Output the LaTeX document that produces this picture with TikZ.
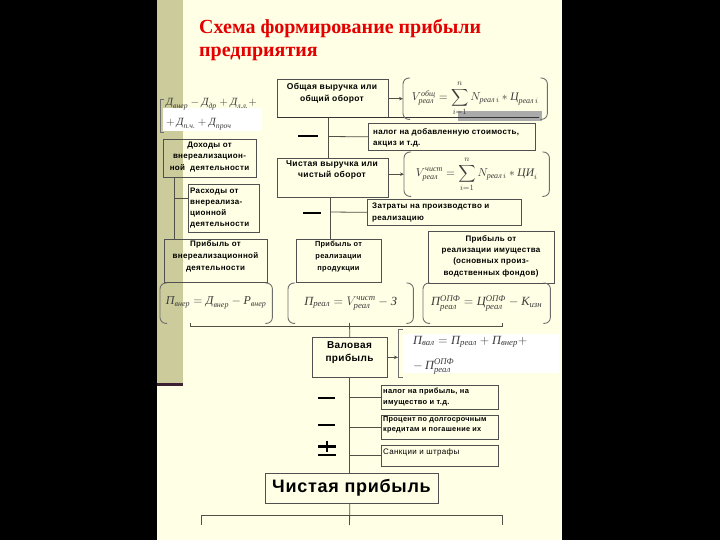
\RequirePackage{fix-cm}
\documentclass[tikz,border=0pt]{standalone}
\usepackage{amsmath}
\usepackage{fontspec}
\setmainfont{Liberation Serif}
\newfontfamily\boxfont[LetterSpace=4]{Liberation Sans}
\usetikzlibrary{calc,arrows.meta}
\newcommand\cyi[1]{\text{\itshape #1}}
\definecolor{cream}{RGB}{255,255,229}
\definecolor{stripe}{RGB}{203,203,155}
\definecolor{darkline}{RGB}{60,32,52}
\definecolor{boxc}{RGB}{80,80,80}
\definecolor{linec}{RGB}{80,80,70}
\definecolor{parc}{RGB}{110,110,110}
\definecolor{fc}{RGB}{60,60,60}
\definecolor{titlered}{RGB}{228,0,0}
\definecolor{graybar}{RGB}{170,170,170}
\newcommand\fparen[1]{%
  \draw[par] ($(#1.north west)+(7,0)$) -- (#1.north west) -- (#1.south west) -- ($(#1.south west)+(7,0)$);
  \draw[par] ($(#1.north east)+(-7,0)$) -- (#1.north east) -- (#1.south east) -- ($(#1.south east)+(-7,0)$);}
\begin{document}
\begin{tikzpicture}[x=1pt,y=-1pt,
  box/.style={draw=boxc, line width=0.7pt, inner sep=0pt, anchor=north west},
  region/.style={inner sep=0pt, anchor=north west},
  fs/.style 2 args={font=\boxfont\bfseries\fontsize{#1}{#2}\selectfont},
  txt/.style={inner sep=0pt, align=center, fs={8}{11}},
  ln/.style={draw=linec, line width=0.8pt},
  arr/.style={ln, -{Stealth[length=4pt,width=3.5pt]}},
  minus/.style={line width=2.6pt, black},
  par/.style={draw=parc, line width=0.9pt, rounded corners=6pt},
  sqb/.style={draw=parc, line width=0.9pt},
  fbox/.style={inner sep=0pt, text=fc, font=\fontsize{11}{13}\selectfont},
]
\useasboundingbox (0,0) rectangle (720,540);
\fill[black] (0,0) rectangle (720,540);
\fill[cream] (157,0) rectangle (562,540);
\fill[stripe] (157,0) rectangle (183,383);
\fill[darkline] (157,382.5) rectangle (183,385.5);

% title
\node[anchor=base west, inner sep=0pt, text=titlered, font=\bfseries\fontsize{20}{23}\selectfont] (t1) at (199,34) {Схема формирование прибыли};
\node[anchor=base west, inner sep=0pt, text=titlered, font=\bfseries\fontsize{20}{23}\selectfont] (t2) at (199,57) {предприятия};

% white patches behind formulas
\fill[white] (163,108) rectangle (262,131);
\fill[white] (403,334) rectangle (559,373);
\fill[graybar] (458,111) rectangle (542,121);

% boxes
\node[box, minimum width=111, minimum height=38] (b1) at (277,79) {};
\node[txt, fs={8.5}{12}] (b1t) at (332,93) {Общая выручка или\\общий оборот};
\node[box, minimum width=111, minimum height=39] (b2) at (277,158) {};
\node[txt, fs={8.5}{11}] (b2t) at (332,170) {Чистая выручка или\\чистый оборот};
\node[box, minimum width=167, minimum height=27] (bnds) at (368,123) {};
\node[txt, align=left, anchor=west, fs={8}{11}] (bndst) at (373,137.5) {налог на добавленную стоимость,\\акциз и т.д.};
\node[box, minimum width=154, minimum height=26] (bzat) at (367,199) {};
\node[txt, align=left, anchor=west, fs={8}{12}] (bzatt) at (372,213) {Затраты на производство и\\реализацию};
\node[box, minimum width=93, minimum height=38] (bdoh) at (163,139) {};
\node[txt, fs={8}{11.5}] (bdoht) at (209.5,157) {Доходы от\\внереализацион-\\ной\ \ деятельности};
\node[box, minimum width=71, minimum height=48] (bras) at (188,184) {};
\node[txt, align=left, anchor=west, fs={8}{10.7}] (brast) at (190,208) {Расходы от\\внереализа-\\ционной\\деятельности};
\node[box, minimum width=103, minimum height=43] (bpvn) at (164,239) {};
\node[txt, fs={8}{12}] (bpvnt) at (215.5,256) {Прибыль от\\внереализационной\\деятельности};
\node[box, minimum width=85, minimum height=43] (bppr) at (296,239) {};
\node[txt, fs={7.4}{12}] (bpprt) at (338.5,256.5) {Прибыль от\\реализации\\продукции};
\node[box, minimum width=126, minimum height=52] (bpim) at (428,231) {};
\node[txt, fs={8}{11.3}] (bpimt) at (491,256) {Прибыль от\\реализации имущества\\(основных произ-\\водственных фондов)};
\node[box, minimum width=75, minimum height=40] (bval) at (312,337) {};
\node[txt, fs={10}{13}] (bvalt) at (349.5,353) {Валовая\\прибыль};
\node[box, minimum width=117, minimum height=24] (bnp) at (381,385) {};
\node[txt, align=left, anchor=west, fs={7.5}{11}] (bnpt) at (383,397) {налог на прибыль, на\\имущество и т.д.};
\node[box, minimum width=117, minimum height=24] (bproc) at (381,415) {};
\node[txt, align=left, anchor=west, fs={7.3}{9.8}] (bproct) at (383,424.5) {Процент по долгосрочным\\кредитам и погашение их};
\node[box, minimum width=117, minimum height=21] (bsank) at (381,445) {};
\node[txt, align=left, anchor=west, font=\boxfont\fontsize{8}{9}\selectfont] (bsankt) at (383,452.5) {Санкции и штрафы};
\node[box, minimum width=173, minimum height=30] (bchp) at (265,473) {};
\node[txt, fs={18}{20}] (bchpt) at (351.5,488) {Чистая прибыль};

% thick base line under first box
\draw[line width=1.3pt, black!80] (b1.south west) -- ++(262,0);

% formula regions
\node[region, minimum width=144, minimum height=41] (f1) at (403,78) {};
\node[region, minimum width=145, minimum height=44] (f2) at (404,152) {};
\node[region, minimum width=112, minimum height=40] (f3) at (160,283) {};
\node[region, minimum width=125, minimum height=40] (f4) at (288,283) {};
\node[region, minimum width=127, minimum height=40] (f5) at (423,283) {};
\node[region, minimum width=162, minimum height=48] (fv) at (398,329) {};
\node[region, minimum width=101, minimum height=33] (fd) at (160,99) {};
\fparen{f1}\fparen{f2}\fparen{f3}\fparen{f4}\fparen{f5}
\draw[sqb] ($(fv.north west)+(5,0)$) -- (fv.north west) -- (fv.south west) -- ($(fv.south west)+(5,0)$);
\draw[sqb] ($(fd.north west)+(4,0)$) -- (fd.north west) -- (fd.south west) -- ($(fd.south west)+(4,0)$);

\node[fbox, font=\fontsize{11.5}{13}\selectfont] (f1t) at (f1.center) {$\displaystyle V^{\cyi{общ}}_{\cyi{реал}} = \sum_{i=1}^{n} N_{\cyi{реал}\,i} * \cyi{Ц}_{\cyi{реал}\,i}$};
\node[fbox, font=\fontsize{11.5}{13}\selectfont] (f2t) at (f2.center) {$\displaystyle V^{\cyi{чист}}_{\cyi{реал}} = \sum_{i=1}^{n} N_{\cyi{реал}\,i} * \cyi{ЦИ}_{i}$};
\node[fbox, font=\fontsize{12}{14}\selectfont] (f3t) at (f3.center) {$\cyi{П}_{\cyi{внер}} = \cyi{Д}_{\cyi{внер}} - \cyi{Р}_{\cyi{внер}}$};
\node[fbox, font=\fontsize{12.5}{14}\selectfont] (f4t) at (f4.center) {$\cyi{П}_{\cyi{реал}} = V^{\cyi{чист}}_{\cyi{реал}} - \cyi{З}$};
\node[fbox, font=\fontsize{12.5}{14}\selectfont] (f5t) at (f5.center) {$\cyi{П}^{\cyi{ОПФ}}_{\cyi{реал}} = \cyi{Ц}^{\cyi{ОПФ}}_{\cyi{реал}} - \cyi{К}_{\cyi{изн}}$};
\node[fbox, anchor=west, align=left, font=\fontsize{12.5}{25}\selectfont] (fvt) at (413,355) {$\cyi{П}_{\cyi{вал}} = \cyi{П}_{\cyi{реал}} + \cyi{П}_{\cyi{внер}} +$\\$-\,\cyi{П}^{\cyi{ОПФ}}_{\cyi{реал}}$};
\node[fbox, anchor=west, align=left, font=\fontsize{11}{20}\selectfont] (fdt) at (166,114) {$\cyi{Д}_{\cyi{внер}} - \cyi{Д}_{\cyi{др}} + \cyi{Д}_{\cyi{л.л.}} +$\\$+\,\cyi{Д}_{\cyi{п.ч.}} + \cyi{Д}_{\cyi{проч}}$};

% connectors
\coordinate (j1) at (328,136.5);
\draw[ln] (b1.south -| j1) -- (b2.north -| j1);
\draw[ln] (j1) -- (bnds.west);
\coordinate (j2) at (330,212);
\draw[ln] (b2.south -| j2) -- (bppr.north -| j2);
\draw[ln] (j2) -- (bzat.west);
\coordinate (j3) at (174,198);
\draw[ln] (bdoh.south -| j3) -- (bpvn.north -| j3);
\draw[ln] (j3) -- (j3 -| bras.west);
\draw[arr] (b1.east |- f1.west) -- (f1.west);
\draw[arr] (b2.east |- f2.west) -- (f2.west);
\draw[arr] (bval.east) -- (bval.east -| fv.west);

\coordinate (k1) at (190,323);
\coordinate (k2) at (349.5,323);
\coordinate (k3) at (502,323);
\draw[ln] (k1) -- (190,326.5) -- (502,326.5) -- (k3);
\draw[ln] (k2) -- (bval.north);
\draw[ln] (bval.south) -- (bval.south |- bchp.north);
\draw[ln] (bval.south |- bnp.west) -- (bnp.west);
\draw[ln] (bval.south |- bproc.west) -- (bproc.west);
\draw[ln] (bval.south |- bsank.west) -- (bsank.west);

\coordinate (e1) at (201,525);
\coordinate (e2) at (349.5,525);
\coordinate (e3) at (502,525);
\draw[ln] (bval.south |- bchp.south) -- (e2);
\draw[ln] (e1) -- (201,515) -- (502,515) -- (e3);

% signs
\draw[minus] (298,136) -- (318,136);
\draw[minus] (303,213) -- (321,213);
\draw[minus] (318,398) -- (335,398);
\draw[minus] (318,425) -- (335,425);
\draw[minus] (318,446.5) -- (336,446.5);
\draw[minus] (327,440.5) -- (327,452);
\draw[minus] (318,455) -- (336,455);
\end{tikzpicture}
\end{document}
